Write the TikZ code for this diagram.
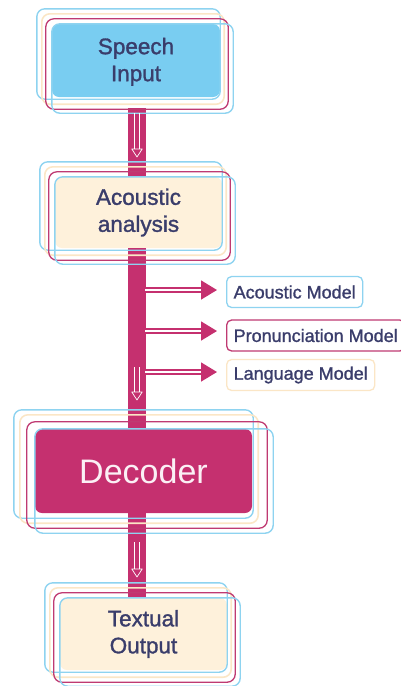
\documentclass[tikz,border=0pt]{standalone}
\usepackage{fontspec}
\setmainfont{Liberation Sans}
\newfontfamily\inkfont[FakeBold=1.3]{Liberation Sans}
\usetikzlibrary{arrows.meta,calc}

\definecolor{mag}{HTML}{C5306F}
\definecolor{skyfill}{HTML}{79CDF1}
\definecolor{creamfill}{HTML}{FEF1DB}
\definecolor{ringblue}{HTML}{8ED3F0}
\definecolor{ringcream}{HTML}{FBE6C6}
\definecolor{ringmag}{HTML}{BF3A72}
\definecolor{ink}{HTML}{3A3D6B}
\definecolor{paletext}{HTML}{FBF0F5}

\tikzset{
  stage/.style={rectangle, rounded corners=7pt, inner sep=0pt, align=center,
    text=ink, font=\inkfont\fontsize{22.5}{27}\selectfont},
  ringA/.style={draw=ringblue, line width=1.4pt, rounded corners=8pt},
  ringC/.style={draw=ringcream, line width=1.6pt, rounded corners=8pt},
  ringM/.style={draw=ringmag, line width=1.3pt, rounded corners=8pt},
  bar/.style={draw=mag, line width=18pt, line cap=butt},
  branch/.style={draw=mag, double=white, line width=1.6pt, double distance=2.4pt,
    -{Triangle[length=16pt,width=19pt]}, shorten >=9pt},
  tag/.style={rectangle, rounded corners=5pt, fill=white, line width=1.3pt,
    anchor=west, inner xsep=7pt, inner ysep=0pt, minimum height=31pt,
    text=ink, font=\inkfont\fontsize{18}{20}\selectfont},
}

% four offset outlines around a stage box
\newcommand\stackrings[1]{%
  \draw[ringA] ($(#1.north west)+(-15,-15)$) rectangle ($(#1.south east)+(0,2)$);
  \draw[ringC] ($(#1.north west)+(-10,-10)$) rectangle ($(#1.south east)+(4,7)$);
  \draw[ringM] ($(#1.north west)+(-6,-5)$) rectangle ($(#1.south east)+(8,12)$);
  \draw[ringA] ($(#1.north west)+(0,0)$) rectangle ($(#1.south east)+(13,16)$);
}

% hollow white arrow inside the spine: x, shaft top, tip
\newcommand\downmark[3]{%
  \draw[white, line width=0.7pt] (#1-2.2,#2) -- (#1-2.2,#3-8) (#1+2.2,#2) -- (#1+2.2,#3-8);
  \draw[white, line width=0.7pt, fill=mag, line join=round]
    (#1-5.2,#3-8) -- (#1+5.2,#3-8) -- (#1,#3) -- cycle;
}

\begin{document}
\begin{tikzpicture}[x=1pt, y=-1pt]
\useasboundingbox (0,0) rectangle (400,686);

% main stages
\node[stage, fill=skyfill, minimum width=168pt, minimum height=73pt] (speech) at (136,60.5) {\rule{0pt}{19pt}Speech\\Input};
\node[stage, fill=creamfill, minimum width=167pt, minimum height=71pt] (acoustic) at (138.5,212.5) {Acoustic\\analysis};
\node[stage, fill=mag, text=paletext, minimum width=217pt, minimum height=84pt,
  font=\fontsize{34}{38}\selectfont] (decoder) at (143.5,471) {Decoder};
\node[stage, fill=creamfill, minimum width=167pt, minimum height=72pt] (textual) at (143.5,634) {Textual\\Output};

% spine between the stages
\coordinate (spine) at (137,0);
\draw[bar] ($(speech.south -| spine)+(0,11)$) -- (acoustic.north -| spine);
\draw[bar] (acoustic.south -| spine) -- (decoder.north -| spine);
\draw[bar] (decoder.south -| spine) -- (textual.north -| spine);

% outlines
\stackrings{speech}
\stackrings{acoustic}
\stackrings{textual}
\draw[ringA] ($(decoder.north west)+(-21,-19)$) rectangle ($(decoder.south east)+(1,5)$);
\draw[ringC] ($(decoder.north west)+(-15,-14)$) rectangle ($(decoder.south east)+(6,10)$);
\draw[ringM] ($(decoder.north west)+(-8,-7)$) rectangle ($(decoder.south east)+(15,15)$);
\draw[ringA] ($(decoder.north west)+(0,0)$) rectangle ($(decoder.south east)+(21,20)$);

% direction marks in the spine
\downmark{137}{113}{157}
\downmark{137}{367}{400}
\downmark{137}{542}{577}

% models feeding the decoder
\node[tag, draw=ringblue] (acm) at (226,292) {Acoustic Model};
\node[tag, draw=ringmag] (prm) at (226,335.5) {Pronunciation Model};
\node[tag, draw=ringcream] (lgm) at (226,375) {Language Model};

\coordinate (tap1) at (145,290);
\coordinate (tap2) at (145,331);
\coordinate (tap3) at (145,372);
\draw[branch] (tap1) -- (tap1 -| acm.west);
\draw[branch] (tap2) -- (tap2 -| prm.west);
\draw[branch] (tap3) -- (tap3 -| lgm.west);
\end{tikzpicture}
\end{document}
